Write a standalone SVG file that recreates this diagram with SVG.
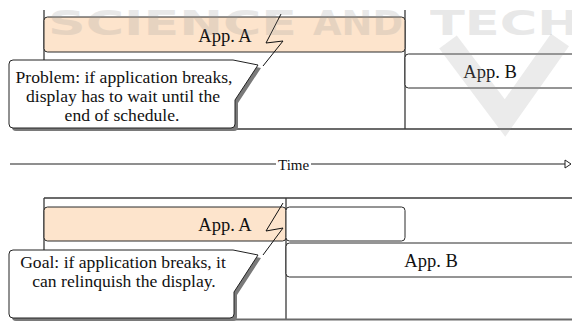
<svg xmlns="http://www.w3.org/2000/svg" width="572" height="321" viewBox="0 0 572 321">
<defs>
<style>
.bar{fill:#fde4cc;stroke:#2a2a2a;stroke-width:1}
.box{fill:#ffffff;stroke:#2a2a2a;stroke-width:1}
.frame{fill:none;stroke:#3a3a3a;stroke-width:1.3}
.lbl{font-family:"Liberation Serif","Times New Roman",serif;font-size:18.5px;fill:#111;text-anchor:middle}
.ctext{font-family:"Liberation Serif","Times New Roman",serif;font-size:17.6px;fill:#111;text-anchor:middle}
.call{fill:#ffffff;stroke:#222;stroke-width:1}
.shadow{fill:#7a7a7a}
.zz{fill:none;stroke:#111;stroke-width:1}
.wm{font-family:"DejaVu Sans",sans-serif;font-weight:bold;font-size:33px;fill:#9a9a9a;opacity:0.22}
</style>
</defs>

<!-- top panel frame -->
<g id="top-frame">
<line class="frame" x1="44" y1="10" x2="44" y2="129"/>
<line class="frame" x1="405" y1="10" x2="405" y2="129"/>
<line class="frame" x1="44" y1="129" x2="572" y2="129"/>
</g>

<g id="appA-top">
<rect class="bar" x="44" y="17" width="361" height="35" rx="3.5"/>
<text class="lbl" x="225" y="42">App. A</text>
</g>

<g id="appB-top">
<rect class="box" x="405" y="54" width="180" height="34" rx="3.5"/>
<text class="lbl" x="490" y="78">App. B</text>
</g>

<!-- bottom panel frame -->
<g id="bottom-frame">
<line class="frame" x1="44" y1="198" x2="572" y2="198"/>
<line class="frame" x1="44" y1="198" x2="44" y2="319"/>
<line class="frame" x1="286" y1="198" x2="286" y2="319"/>
<line x1="44" y1="319.5" x2="572" y2="319.5" stroke="#6a6a6a" stroke-width="2"/>
</g>

<g id="appA-bottom">
<rect class="bar" x="44" y="207" width="242" height="34" rx="3.5"/>
<text class="lbl" x="225" y="231">App. A</text>
</g>

<g id="slot-bottom">
<rect class="box" x="286" y="207" width="119" height="34" rx="3.5"/>
</g>

<g id="appB-bottom">
<rect class="box" x="286" y="243" width="300" height="34" rx="3.5"/>
<text class="lbl" x="431" y="267">App. B</text>
</g>

<!-- connectors -->
<g id="connectors">
<polyline class="zz" points="281,14 266,43 283,41 263,66"/>
<polyline class="zz" points="283,203 266,231 283,228 263,255"/>
<g id="time-axis">
<line x1="10" y1="164" x2="276" y2="164" stroke="#6a6a6a" stroke-width="1.6"/>
<line x1="311" y1="164" x2="565" y2="164" stroke="#6a6a6a" stroke-width="1.6"/>
<polygon points="565,160 571,164 565,168" fill="#ffffff" stroke="#222" stroke-width="1"/>
<text x="278" y="170" font-family="Liberation Serif, Times New Roman, serif" font-size="15" fill="#111">Time</text>
</g>
</g>

<g id="callout-problem">
<path class="shadow" d="M16,63 H236 L261,68 L238,103 V127 Q238,131 234,131 H16 Q12,131 12,127 V67 Q12,63 16,63 Z"/>
<path class="call" d="M13,60 H233 L258,65 L235,100 V124 Q235,128 231,128 H13 Q9,128 9,124 V64 Q9,60 13,60 Z"/>
<text class="ctext" x="124" y="83">Problem: if application breaks,</text>
<text class="ctext" x="123" y="102">display has to wait until the</text>
<text class="ctext" x="122" y="121">end of schedule.</text>
</g>

<g id="callout-goal">
<path class="shadow" d="M16,253 H236 L261,258 L237,295 V317 Q237,321 233,321 H16 Q12,321 12,317 V257 Q12,253 16,253 Z"/>
<path class="call" d="M13,250 H233 L258,255 L234,292 V314 Q234,318 230,318 H13 Q9,318 9,314 V254 Q9,250 13,250 Z"/>
<text class="ctext" x="123" y="268">Goal: if application breaks, it</text>
<text class="ctext" x="124" y="287">can relinquish the display.</text>
</g>

<!-- watermark -->
<g id="watermark">
<text class="wm" x="48" y="35" textLength="249" lengthAdjust="spacingAndGlyphs">SCIENCE</text>
<text class="wm" x="313" y="35" textLength="90" lengthAdjust="spacingAndGlyphs">AND</text>
<text class="wm" x="430" y="35" textLength="150" lengthAdjust="spacingAndGlyphs">TECH</text>
<polyline points="448,42 505,118 560,40" fill="none" stroke="#9a9a9a" stroke-opacity="0.2" stroke-width="22" stroke-linejoin="miter"/>
</g>
</svg>
